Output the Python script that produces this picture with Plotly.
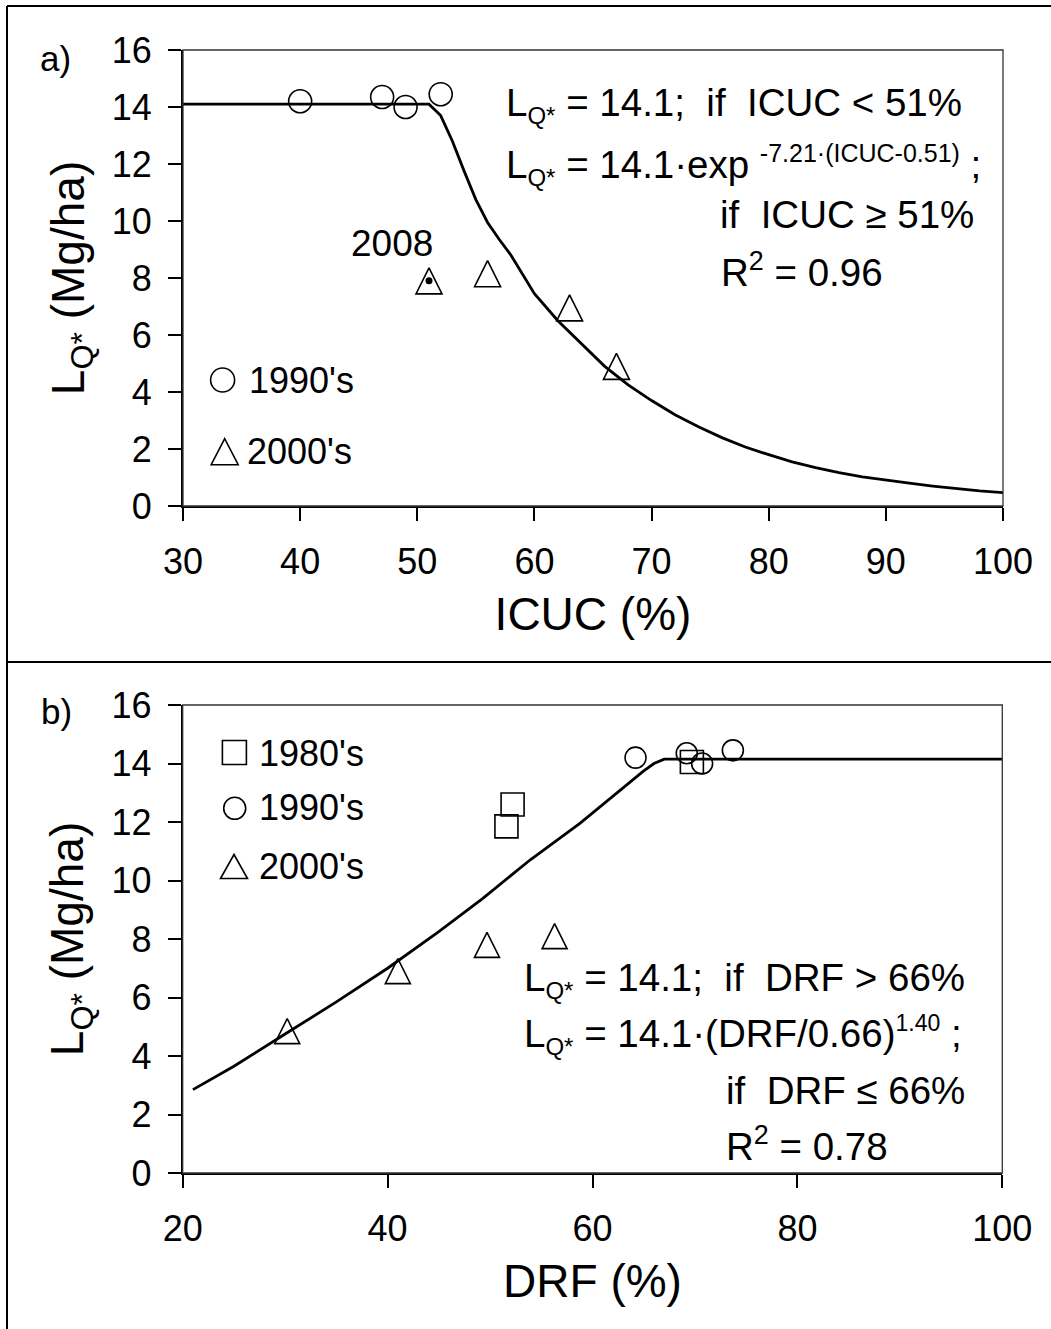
import plotly.graph_objects as go

W, H = 1051, 1329
FONT = "Liberation Sans, Arial, sans-serif"

# ---------------- data: panel a (ICUC) ----------------
icuc_1990 = [40, 47, 49, 52]
lq_1990_a = [14.2, 14.35, 14.0, 14.45]
icuc_2000 = [51, 56, 63, 67]
lq_2000_a = [7.9, 8.15, 6.95, 4.9]
idx_2008 = 0
label_2008 = "2008"
fit_icuc_x = [30, 51, 52, 53, 54, 55, 56, 57, 58, 60, 62, 64, 66, 68, 70, 72, 74,
              76, 78, 80, 82, 84, 86, 88, 90, 92, 94, 96, 98, 100]
fit_icuc_y = [14.1, 14.1, 13.7, 12.8, 11.75, 10.75, 9.95, 9.35, 8.8, 7.45, 6.5, 5.7,
              4.9, 4.25, 3.7, 3.2, 2.78, 2.4, 2.07, 1.8, 1.55, 1.35, 1.17, 1.02,
              0.9, 0.8, 0.7, 0.61, 0.53, 0.47]

# ---------------- data: panel b (DRF) ----------------
drf_1980 = [51.6, 52.2, 69.7]
lq_1980 = [11.85, 12.6, 14.05]
drf_1990 = [64.2, 69.2, 70.7, 73.7]
lq_1990_b = [14.2, 14.35, 14.0, 14.45]
drf_2000 = [30.2, 41.0, 49.7, 56.3]
lq_2000_b = [4.85, 6.9, 7.8, 8.1]
fit_drf_x = [21, 25, 30, 35, 40, 45, 49.3, 53.9, 58.8, 62.7, 65, 66, 67, 70, 100]
fit_drf_y = [2.85, 3.65, 4.75, 5.85, 7.0, 8.25, 9.39, 10.7, 11.96, 13.1, 13.75,
             14.0, 14.15, 14.15, 14.15]

yticks = [0, 2, 4, 6, 8, 10, 12, 14, 16]
xticks_a = [30, 40, 50, 60, 70, 80, 90, 100]
xticks_b = [20, 40, 60, 80, 100]

# ---------------- helpers ----------------
def px(x):
    return x / W

def py(y):
    return 1 - y / H

open_marker = dict(color="rgba(0,0,0,0)", line=dict(color="black", width=1.6))

def tri_marker(size):
    m = dict(symbol="arrow-down", angle=180, standoff=size / 2, size=size)
    m.update(open_marker)
    return m

fig = go.Figure()

# panel a
fig.add_trace(go.Scatter(x=fit_icuc_x, y=fit_icuc_y, mode="lines",
                         line=dict(color="black", width=2.8), xaxis="x", yaxis="y",
                         showlegend=False))
fig.add_trace(go.Scatter(x=icuc_1990, y=lq_1990_a, mode="markers", name="1990's",
                         marker=dict(symbol="circle", size=23, **open_marker),
                         xaxis="x", yaxis="y", showlegend=False))
fig.add_trace(go.Scatter(x=icuc_2000, y=lq_2000_a, mode="markers", name="2000's",
                         marker=tri_marker(26), xaxis="x", yaxis="y", showlegend=False))
fig.add_trace(go.Scatter(x=[icuc_2000[idx_2008]], y=[lq_2000_a[idx_2008]], mode="markers",
                         marker=dict(symbol="circle", size=7, color="black"),
                         xaxis="x", yaxis="y", showlegend=False))

# panel b
fig.add_trace(go.Scatter(x=fit_drf_x, y=fit_drf_y, mode="lines",
                         line=dict(color="black", width=2.8), xaxis="x2", yaxis="y2",
                         showlegend=False))
fig.add_trace(go.Scatter(x=drf_1980, y=lq_1980, mode="markers", name="1980's",
                         marker=dict(symbol="square", size=23, **open_marker),
                         xaxis="x2", yaxis="y2", showlegend=False))
fig.add_trace(go.Scatter(x=drf_1990, y=lq_1990_b, mode="markers", name="1990's",
                         marker=dict(symbol="circle", size=21, **open_marker),
                         xaxis="x2", yaxis="y2", showlegend=False))
fig.add_trace(go.Scatter(x=drf_2000, y=lq_2000_b, mode="markers", name="2000's",
                         marker=tri_marker(25), xaxis="x2", yaxis="y2", showlegend=False))

tickfont = dict(family=FONT, size=36, color="black")
titlefont = dict(family=FONT, size=46, color="black")
xcommon = dict(showline=True, linecolor="black", linewidth=2, ticks="outside", ticklen=13,
               tickwidth=1.5, tickcolor="black", showgrid=False, zeroline=False,
               tickfont=tickfont, ticklabelstandoff=10, automargin=False)
ycommon = dict(showline=True, linecolor="black", linewidth=2, ticks="outside", ticklen=13,
               tickwidth=1.5, tickcolor="black", showgrid=False, zeroline=False,
               tickfont=tickfont, ticklabelstandoff=9, range=[0, 16],
               tickvals=yticks, automargin=False)

ytitle = "L<sub>Q*</sub> (Mg/ha)"

fig.update_layout(
    width=W, height=H, margin=dict(l=0, r=0, t=0, b=0, pad=0), autosize=False,
    paper_bgcolor="white", plot_bgcolor="white",
    font=dict(family=FONT, color="black"),
    xaxis=dict(domain=[px(183), px(1003)], anchor="y", range=[30, 100], tickvals=xticks_a,
               title=dict(text="ICUC (%)", font=titlefont, standoff=17), **xcommon),
    yaxis=dict(domain=[py(506), py(50)], anchor="x",
               title=dict(text=ytitle, font=titlefont, standoff=13), **ycommon),
    xaxis2=dict(domain=[px(182.7), px(1002.3)], anchor="y2", range=[20, 100],
                tickvals=xticks_b,
                title=dict(text="DRF (%)", font=titlefont, standoff=17), **xcommon),
    yaxis2=dict(domain=[py(1173), py(705)], anchor="x2",
                title=dict(text=ytitle, font=titlefont, standoff=13), **ycommon),
)

shapes = []
# plot frames (top/right thin borders)
for xr, yr in (("x domain", "y domain"), ("x2 domain", "y2 domain")):
    shapes.append(dict(type="rect", xref=xr, yref=yr, x0=0, x1=1, y0=0, y1=1,
                       line=dict(color="#333333", width=1.3), layer="above"))
# outer figure frame lines
frame = dict(color="black", width=2)
shapes.append(dict(type="line", xref="paper", yref="paper", x0=px(7), x1=px(7),
                   y0=py(6), y1=0, line=frame))
shapes.append(dict(type="line", xref="paper", yref="paper", x0=px(7), x1=1,
                   y0=py(6), y1=py(6), line=frame))
shapes.append(dict(type="line", xref="paper", yref="paper", x0=px(7), x1=1,
                   y0=py(662), y1=py(662), line=frame))

leg_line = dict(color="black", width=1.6)

def circle_shape(cx, cy, d):
    return dict(type="circle", xref="paper", yref="paper", x0=px(cx - d / 2),
                x1=px(cx + d / 2), y0=py(cy + d / 2), y1=py(cy - d / 2), line=leg_line)

def square_shape(cx, cy, d):
    return dict(type="rect", xref="paper", yref="paper", x0=px(cx - d / 2),
                x1=px(cx + d / 2), y0=py(cy + d / 2), y1=py(cy - d / 2), line=leg_line)

def tri_shape(cx, cy, w, h):
    p = "M{:.5f},{:.5f} L{:.5f},{:.5f} L{:.5f},{:.5f} Z".format(
        px(cx), py(cy - h / 2), px(cx - w / 2), py(cy + h / 2), px(cx + w / 2), py(cy + h / 2))
    return dict(type="path", xref="paper", yref="paper", path=p, line=leg_line)

# legend symbols
shapes.append(circle_shape(222.6, 380, 24))
shapes.append(tri_shape(224.7, 451.7, 27, 26))
shapes.append(square_shape(234.4, 752.5, 24))
shapes.append(circle_shape(234.7, 808.3, 22))
shapes.append(tri_shape(234, 866.5, 27, 24))
fig.update_layout(shapes=shapes)

anns = []

def ptext(text, x, y, size, xanchor="left"):
    anns.append(dict(text=text, xref="paper", yref="paper", x=px(x), y=py(y),
                     xanchor=xanchor, yanchor="middle", showarrow=False,
                     font=dict(family=FONT, size=size, color="black")))

NB = "&nbsp;"
EQ = 38.5
SUP_A = '<sup><span style="font-size:25px">-7.21·(ICUC-0.51)</span></sup>'
SUP_B = '<sup><span style="font-size:23px">1.40</span></sup>'
SUB_Q = '<sub><span style="font-size:24px">Q*</span></sub>'
# panel labels
ptext("a)", 55, 58, 35, "center")
ptext("b)", 56, 711, 35, "center")
# legend texts
ptext("1990's", 247, 381, 36)
ptext("2000's", 245, 451, 36)
ptext("1980's", 257, 753, 36)
ptext("1990's", 257, 808, 36)
ptext("2000's", 257, 866, 36)
# equations panel a
ptext("L" + SUB_Q + " = 14.1;" + NB * 2 + "if" + NB * 2 + "ICUC &lt; 51%", 504, 105, EQ)
ptext("L" + SUB_Q + " = 14.1·exp " + SUP_A + " ;", 504, 165, EQ)
ptext("if" + NB * 2 + "ICUC ≥ 51%", 718, 214, EQ)
ptext("R<sup>2</sup> = 0.96", 719, 270, EQ)
# equations panel b
ptext("L" + SUB_Q + " = 14.1;" + NB * 2 + "if" + NB * 2 + "DRF &gt; 66%", 522, 980, EQ)
ptext("L" + SUB_Q + " = 14.1·(DRF/0.66)" + SUP_B + " ;", 522, 1035, EQ)
ptext("if" + NB * 2 + "DRF ≤ 66%", 724, 1090, EQ)
ptext("R<sup>2</sup> = 0.78", 724, 1144, EQ)

# 2008 label (data coordinates)
anns.append(dict(text=label_2008, xref="x", yref="y", x=47.8, y=9.2, showarrow=False,
                 xanchor="center", yanchor="middle",
                 font=dict(family=FONT, size=37, color="black")))

fig.update_layout(annotations=anns)

fig.write_html("out.html")
